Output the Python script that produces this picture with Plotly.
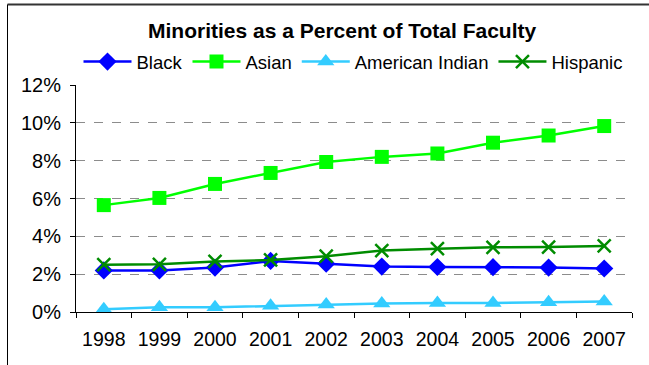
import plotly.graph_objects as go

years = ["1998", "1999", "2000", "2001", "2002", "2003", "2004", "2005", "2006", "2007"]
black = [2.2, 2.2, 2.35, 2.7, 2.55, 2.4, 2.38, 2.37, 2.35, 2.3]
asian = [5.65, 6.03, 6.77, 7.35, 7.93, 8.2, 8.38, 8.95, 9.33, 9.83]
american_indian = [0.15, 0.25, 0.25, 0.33, 0.4, 0.45, 0.47, 0.47, 0.52, 0.56]
hispanic = [2.5, 2.52, 2.67, 2.75, 2.95, 3.25, 3.35, 3.42, 3.43, 3.49]
y_ticks = [0, 2, 4, 6, 8, 10, 12]
y_tick_labels = [f"{v}%" for v in y_ticks]

W, H = 649, 365
L, R, T, B = 76, 17, 85, 53
pw, ph = W - L - R, H - T - B

def px_x(px):
    return (px - L) / pw

def px_y(py):
    return (H - B - py) / ph

font = "Liberation Sans, Arial, sans-serif"

fig = go.Figure()
series = [
    ("Black", black, "#0000FF", dict(symbol="diamond", size=14)),
    ("Asian", asian, "#00FF00", dict(symbol="square", size=14)),
    ("American Indian", american_indian, "#33CCFF", dict(symbol="triangle-up", size=15)),
    ("Hispanic", hispanic, "#008C00", dict(symbol="x-thin", size=13, line=dict(width=2.5, color="#008C00"))),
]
for name, vals, color, mk in series:
    fig.add_trace(go.Scatter(
        x=years, y=vals, name=name, mode="lines+markers",
        line=dict(color=color, width=2.5),
        marker=dict(color=color, **mk),
    ))

fig.update_layout(
    width=W, height=H,
    margin=dict(l=L, r=R, t=T, b=B),
    paper_bgcolor="white", plot_bgcolor="white",
    font=dict(family=font, size=18.5, color="black"),
    showlegend=True,
    legend=dict(orientation="h", x=px_x(353), xanchor="center", y=px_y(62), yanchor="middle",
                font=dict(size=18.5), itemwidth=48, tracegroupgap=0,
                bgcolor="rgba(0,0,0,0)"),
    xaxis=dict(type="category", showline=True, linecolor="black", linewidth=1,
               ticks="outside", ticklen=5, tickcolor="black", tickson="boundaries",
               showgrid=False, tickfont=dict(size=19.5), range=[-0.5, 9.5],
               ticklabelstandoff=10),
    yaxis=dict(range=[0, 12], tickvals=y_ticks, ticktext=y_tick_labels, showline=True,
               linecolor="black", linewidth=1, ticks="outside", ticklen=5, tickcolor="black",
               showgrid=True, gridcolor="#8c8c8c", griddash="dash", gridwidth=1,
               zeroline=False, tickfont=dict(size=20), ticklabelstandoff=5),
    annotations=[
        dict(text="<b>Minorities as a Percent of Total Faculty</b>", xref="paper", yref="paper",
             x=px_x(342), y=px_y(31), xanchor="center", yanchor="middle", showarrow=False,
             font=dict(size=21, family=font)),
        dict(text="SOURCE: October IPEDS data", xref="paper", yref="paper",
             x=px_x(13), y=px_y(5), xanchor="left", yanchor="bottom", showarrow=False,
             font=dict(size=16.5, family=font)),
    ],
    shapes=[
        dict(type="line", xref="paper", yref="paper", x0=px_x(7.5), x1=px_x(649), y0=px_y(4.5), y1=px_y(4.5),
             line=dict(color="#333333", width=2)),
        dict(type="line", xref="paper", yref="paper", x0=px_x(7.5), x1=px_x(7.5), y0=px_y(4.5), y1=px_y(365),
             line=dict(color="black", width=1)),
    ],
)

fig.write_html("out.html")
